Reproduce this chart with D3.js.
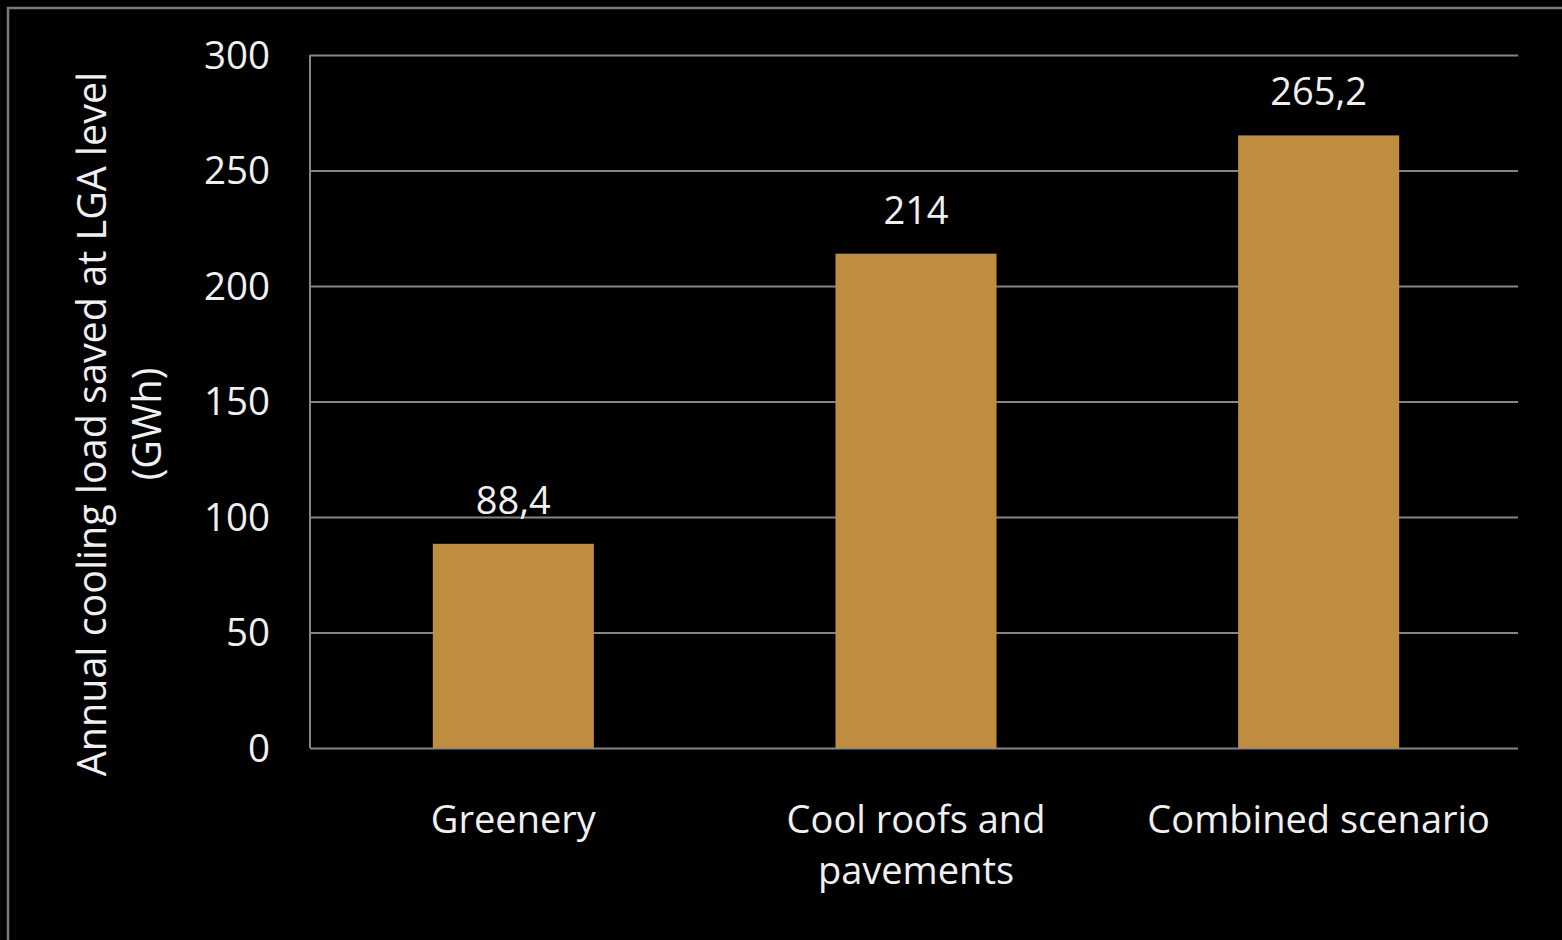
<!DOCTYPE html>
<html>
<head>
<meta charset="utf-8">
<script src="https://cdn.jsdelivr.net/npm/d3@7"></script>
<style>
  html, body { margin: 0; padding: 0; background: #000; }
  svg { display: block; }
  text { font-family: "Open Sans", sans-serif; fill: #F0F0F0; }
</style>
</head>
<body>
<svg id="chart" width="1562" height="940"></svg>
<script>
const categories = ["Greenery", "Cool roofs and pavements", "Combined scenario"];
const categoryLines = [["Greenery"], ["Cool roofs and", "pavements"], ["Combined scenario"]];
const values = [88.4, 214, 265.2];
const yTicks = [0, 50, 100, 150, 200, 250, 300];
const yTitleLines = ["Annual cooling load saved at LGA level", "(GWh)"];

const W = 1562, H = 940;
const margin = { left: 310, right: 44, top: 55, bottom: 192 };
const svg = d3.select("#chart");

svg.append("rect").attr("x", 0).attr("y", 0).attr("width", W).attr("height", H).attr("fill", "#000");
// outer frame
svg.append("rect").attr("x", 8).attr("y", 8).attr("width", W).attr("height", H)
  .attr("fill", "none").attr("stroke", "#7a7a7a").attr("stroke-width", 2.5);

const x = d3.scaleBand().domain(categories)
  .range([margin.left, W - margin.right]).paddingInner(0.6).paddingOuter(0.3);
const y = d3.scaleLinear().domain([0, 300]).range([H - margin.bottom, margin.top]);

const locale = d3.formatLocale({ decimal: ",", thousands: " ", grouping: [3], currency: ["", ""] });
const fmt = v => Number.isInteger(v) ? String(v) : locale.format(".1f")(v);

// gridlines
const yAxis = d3.axisLeft(y).tickValues(yTicks).tickSize(-(W - margin.right - margin.left)).tickFormat(d => d).tickPadding(40);
const gy = svg.append("g").attr("transform", `translate(${margin.left},0)`).call(yAxis);
gy.select(".domain").remove();
gy.selectAll(".tick line").attr("stroke", "#858585").attr("stroke-width", 2);
gy.selectAll(".tick text").attr("font-size", 38.5).attr("fill", "#F0F0F0")
  .attr("font-family", "'Open Sans', sans-serif").attr("dy", "0.34em");

// left axis line
svg.append("line").attr("x1", margin.left).attr("x2", margin.left)
  .attr("y1", y(300)).attr("y2", y(0)).attr("stroke", "#858585").attr("stroke-width", 2);

// bars
svg.selectAll("rect.bar").data(values).join("rect").attr("class", "bar")
  .attr("x", (d, i) => x(categories[i]) + 2).attr("width", x.bandwidth())
  .attr("y", d => y(d)).attr("height", d => y(0) - y(d)).attr("fill", "#BF8D3F");

// value labels
svg.selectAll("text.val").data(values).join("text").attr("class", "val")
  .attr("x", (d, i) => x(categories[i]) + x.bandwidth() / 2 + 2)
  .attr("y", d => y(d) - 30).attr("text-anchor", "middle").attr("font-size", 38)
  .text(d => fmt(d));

// category labels
categoryLines.forEach((lines, i) => {
  const cx = x(categories[i]) + x.bandwidth() / 2 + 2;
  const t = svg.append("text").attr("text-anchor", "middle").attr("font-size", 38)
    .attr("x", cx).attr("y", 833);
  lines.forEach((l, j) => t.append("tspan").attr("x", cx)
    .attr("dy", j === 0 ? 0 : 51).text(l));
});

// y title
const cy = 424;
const yt = svg.append("text").attr("transform", `translate(106,${cy}) rotate(-90)`)
  .attr("text-anchor", "middle").attr("font-size", 39.5);
yTitleLines.forEach((l, j) => yt.append("tspan").attr("x", 0).attr("dy", j === 0 ? 0 : 55).text(l));
</script>
</body>
</html>
